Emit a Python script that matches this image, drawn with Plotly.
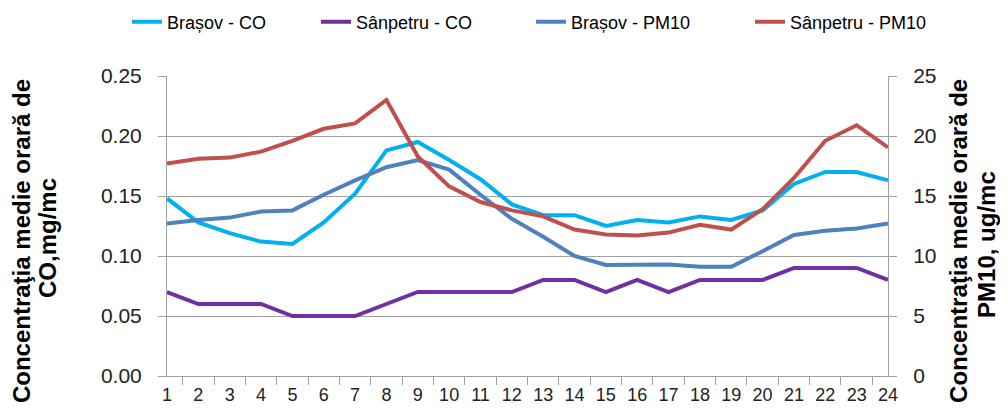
import plotly.graph_objects as go

hours = [str(h) for h in range(1, 25)]

brasov_co = [0.148, 0.128, 0.119, 0.112, 0.110, 0.128, 0.152, 0.188, 0.195, 0.180,
             0.164, 0.143, 0.134, 0.134, 0.125, 0.130, 0.128, 0.133, 0.130, 0.138,
             0.160, 0.170, 0.170, 0.163]
sanpetru_co = [0.07, 0.06, 0.06, 0.06, 0.05, 0.05, 0.05, 0.06, 0.07, 0.07,
               0.07, 0.07, 0.08, 0.08, 0.07, 0.08, 0.07, 0.08, 0.08, 0.08,
               0.09, 0.09, 0.09, 0.08]
brasov_pm10 = [12.7, 13.0, 13.2, 13.7, 13.8, 15.1, 16.3, 17.4, 18.0, 17.2,
               15.1, 13.1, 11.6, 10.0, 9.25, 9.25, 9.3, 9.1, 9.1, 10.4,
               11.75, 12.1, 12.3, 12.7]
sanpetru_pm10 = [17.7, 18.1, 18.2, 18.7, 19.6, 20.6, 21.05, 23.0, 18.3, 15.8,
                 14.5, 13.8, 13.3, 12.2, 11.8, 11.7, 11.95, 12.6, 12.2, 13.9,
                 16.5, 19.6, 20.9, 19.05]

co_ticks = [0.0, 0.05, 0.10, 0.15, 0.20, 0.25]
pm_ticks = [0, 5, 10, 15, 20, 25]

left_title = ["Concentraţia medie orară de", "CO,mg/mc"]
right_title = ["Concentraţia medie orară de", "PM10, ug/mc"]

fig = go.Figure()
fig.add_trace(go.Scatter(x=hours, y=brasov_co, name="Brașov - CO", mode="lines",
                         line=dict(color="#00B0F0", width=4), legendwidth=144))
fig.add_trace(go.Scatter(x=hours, y=sanpetru_co, name="Sânpetru - CO", mode="lines",
                         line=dict(color="#7030A0", width=4), legendwidth=170))
fig.add_trace(go.Scatter(x=hours, y=brasov_pm10, name="Brașov - PM10", mode="lines",
                         line=dict(color="#4F81BD", width=4), yaxis="y2", legendwidth=174))
fig.add_trace(go.Scatter(x=hours, y=sanpetru_pm10, name="Sânpetru - PM10", mode="lines",
                         line=dict(color="#C0504D", width=4), yaxis="y2", legendwidth=150))

title_font = dict(family="Liberation Sans, Arial", size=24, color="black")
tick_font = dict(family="Liberation Sans, Arial", size=21, color="#222222")
x_font = dict(family="Liberation Sans, Arial", size=18, color="#222222")

# axis titles as rotated annotations (line-by-line for exact placement)
title_pos = [
    (left_title[0], -0.2024, 0.45),
    (left_title[1], -0.1664, 0.46),
    (right_title[0], 1.097, 0.45),
    (right_title[1], 1.1374, 0.437),
]
for txt, ax, ay in title_pos:
    fig.add_annotation(text=f"<b>{txt}</b>", xref="paper", yref="paper", x=ax, y=ay,
                       xanchor="center", yanchor="middle", textangle=-90,
                       showarrow=False, font=title_font)

fig.update_layout(
    width=1000, height=406,
    margin=dict(l=159, r=120, t=68, b=38, autoexpand=False),
    plot_bgcolor="white", paper_bgcolor="white",
    showlegend=True,
    legend=dict(orientation="h", x=-0.0555, xanchor="left", y=1.18, yanchor="middle",
                font=dict(family="Liberation Sans, Arial", size=18, color="black"),
                itemwidth=30, bgcolor="rgba(0,0,0,0)"),
    xaxis=dict(type="category", tickson="boundaries", ticks="outside", ticklen=8,
               tickcolor="#A0A0A0", showline=True, linecolor="#A0A0A0", linewidth=1,
               showgrid=False, tickfont=x_font, tickangle=0, ticklabelstandoff=2,
               automargin=False),
    yaxis=dict(range=[0, 0.25], tickvals=co_ticks, tickformat=".2f",
               ticks="outside", ticklen=8, tickcolor="#A0A0A0",
               showline=True, linecolor="#A0A0A0", linewidth=1,
               showgrid=True, gridcolor="#A0A0A0", gridwidth=1,
               zeroline=False, tickfont=tick_font, ticklabelstandoff=12,
               automargin=False),
    yaxis2=dict(range=[0, 25], tickvals=pm_ticks, overlaying="y", side="right",
                ticks="outside", ticklen=8, tickcolor="#A0A0A0",
                showline=True, linecolor="#A0A0A0", linewidth=1,
                showgrid=False, zeroline=False, tickfont=tick_font, ticklabelstandoff=12,
                automargin=False),
)

fig.write_html("out.html")
